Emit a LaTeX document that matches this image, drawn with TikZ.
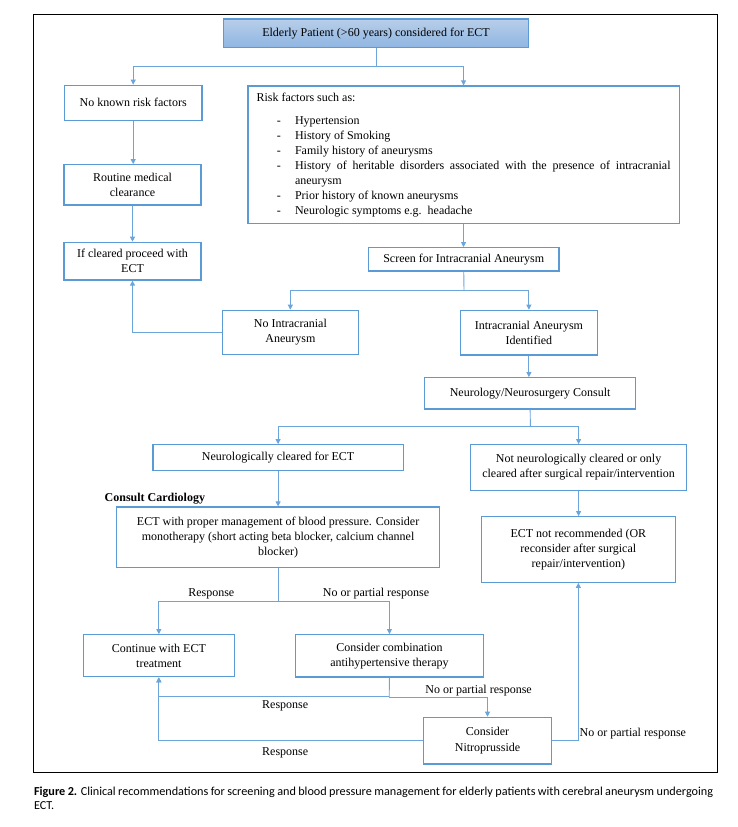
\documentclass[tikz,border=0pt]{standalone}
\usepackage{fontspec}
\setmainfont{Liberation Serif}
\newfontfamily\capfont{Carlito}
\usetikzlibrary{arrows.meta}
\definecolor{bxblue}{RGB}{91,155,213}
\definecolor{lnblue}{RGB}{108,165,218}
\definecolor{topA}{RGB}{184,206,233}
\definecolor{topB}{RGB}{143,182,226}
\tikzset{
  base/.style={font=\fontsize{12}{15}\selectfont},
  bx/.style={base, draw=bxblue, line width=1.2pt, inner sep=0pt, align=center},
  lbl/.style={base, inner sep=0pt},
  ln/.style={draw=lnblue, line width=0.9pt},
  arr/.style={ln, -{Triangle[length=5pt,width=5pt]}},
}
\begin{document}
\begin{tikzpicture}[x=1pt,y=-1pt]
\useasboundingbox (0,0) rectangle (738,827);
\draw[black, line width=1pt] (33,14) rectangle (717,772);
% boxes
\node[bx, line width=1.5pt, top color=topA, bottom color=topB, minimum width=305pt, minimum height=28.3pt] (top) at (376,33.2) {Elderly Patient (>60 years) considered for ECT};
\node[bx, minimum width=137.4pt, minimum height=35pt] (nokn) at (133.2,102.8) {No known risk factors};
\node[bx, minimum width=431.1pt, minimum height=137.7pt, text width=414pt, inner xsep=8.5pt, align=justify] (risk) at (463.55,154.85) {%
Risk factors such as:\par\vspace{8pt}%
\hangindent=38.5pt\hangafter=1\makebox[38.5pt][l]{\hspace{20.2pt}-}Hypertension\par
\hangindent=38.5pt\hangafter=1\makebox[38.5pt][l]{\hspace{20.2pt}-}History of Smoking\par
\hangindent=38.5pt\hangafter=1\makebox[38.5pt][l]{\hspace{20.2pt}-}Family history of aneurysms\par
\hangindent=38.5pt\hangafter=1\makebox[38.5pt][l]{\hspace{20.2pt}-}History of heritable disorders associated with the presence of intracranial aneurysm\par
\hangindent=38.5pt\hangafter=1\makebox[38.5pt][l]{\hspace{20.2pt}-}Prior history of known aneurysms\par
\hangindent=38.5pt\hangafter=1\makebox[38.5pt][l]{\hspace{20.2pt}-}Neurologic symptoms e.g.\ \ headache\par}%
;
\node[bx, minimum width=137pt, minimum height=40.3pt] (routine) at (132.5,184.85) {Routine medical\\clearance};
\node[bx, minimum width=137pt, minimum height=37.7pt] (ifcl) at (132.5,261.15) {If cleared proceed with\\ECT};
\node[bx, minimum width=190.5pt, minimum height=23.3pt] (screen) at (463.75,259.35) {Screen for Intracranial Aneurysm};
\node[bx, minimum width=136.5pt, minimum height=44pt] (noia) at (290.35,332.3) {No Intracranial\\Aneurysm};
\node[bx, minimum width=137.4pt, minimum height=44.7pt] (iaid) at (528.9,332.65) {Intracranial Aneurysm\\Identified};
\node[bx, minimum width=211.3pt, minimum height=31.3pt] (consult) at (530.15,393.35) {Neurology/Neurosurgery Consult};
\node[bx, minimum width=250.4pt, minimum height=25.6pt] (neurocl) at (278.1,457.5) {Neurologically cleared for ECT};
\node[bx, minimum width=216pt, minimum height=45.6pt] (notneuro) at (578.6,467.5) {Not neurologically cleared or only\\cleared after surgical repair/intervention};
\node[bx, minimum width=322.8pt, minimum height=60.7pt] (ect) at (278.1,537.35) {ECT with proper management of blood pressure. Consider\\monotherapy (short acting beta blocker, calcium channel\\blocker)};
\node[bx, minimum width=193.9pt, minimum height=65.6pt] (ectnot) at (578.35,549.5) {ECT not recommended (OR\\reconsider after surgical\\repair/intervention)};
\node[bx, minimum width=151.1pt, minimum height=42pt] (cont) at (158.85,655.7) {Continue with ECT\\treatment};
\node[bx, minimum width=188.7pt, minimum height=42.3pt] (comb) at (389.45,655.85) {Consider combination\\antihypertensive therapy};
\node[bx, minimum width=128pt, minimum height=46.7pt, font=\fontsize{12}{16}\selectfont] (nitro) at (487.5,740.65) {Consider\\Nitroprusside};
% labels
\node[lbl, font=\fontsize{12}{15}\selectfont\bfseries, anchor=west] (cardio) at (104.5,498.3) {Consult Cardiology};
\node[lbl] (resp1) at (211.3,594) {Response};
\node[lbl] (nopr1) at (376,594) {No or partial response};
\node[lbl] (nopr2) at (478.6,691) {No or partial response};
\node[lbl] (resp2) at (285.2,706) {Response};
\node[lbl] (resp3) at (285.2,753.3) {Response};
\node[lbl, anchor=west] (nopr3) at (579.5,733.3) {No or partial response};
% junctions
\coordinate (j1) at (376,66);
\coordinate (j2) at (464,290.7);
\coordinate (j3) at (530.4,426.7);
\coordinate (j4) at (278.1,601.3);
\coordinate (j5) at (389.2,696);
\coordinate (j6) at (389.2,697.3);
% connectors
\draw[ln] (top.south) -- (j1);
\draw[arr] (j1) -| (nokn.north);
\draw[arr] (j1) -| (risk.north);
\draw[arr] (nokn.south) -- (nokn.south |- routine.north);
\draw[arr] (routine.south) -- (routine.south |- ifcl.north);
\draw[arr] (risk.south) -- (risk.south |- screen.north);
\draw[ln] (screen.south) -- (j2);
\draw[arr] (j2) -| (noia.north);
\draw[arr] (j2) -| (iaid.north);
\draw[arr] (noia.west) -| (ifcl.south);
\draw[arr] (iaid.south) -- (iaid.south |- consult.north);
\draw[ln] (consult.south |- consult.south) -- (j3);
\draw[arr] (j3) -| (neurocl.north);
\draw[arr] (j3) -| (notneuro.north);
\draw[arr] (neurocl.south) -- (ect.north);
\draw[arr] (notneuro.south) -- (notneuro.south |- ectnot.north);
\draw[ln] (ect.south) -- (j4);
\draw[arr] (j4) -| (cont.north);
\draw[arr] (j4) -| (comb.north);
\draw[ln] (comb.south) -- (j6);
\draw[arr] (j5) -| (cont.south);
\draw[arr] (j6) -| (nitro.north);
\draw[arr] (nitro.west) -| (cont.south);
\draw[arr] (nitro.east) -| (ectnot.south);
% caption
\node[anchor=west, inner sep=0pt, font=\capfont\fontsize{12.2}{14}\selectfont, align=left] (cap) at (33.9,798) {\makebox[679pt][s]{\textbf{Figure 2.} Clinical recommendations for screening and blood pressure management for elderly patients with cerebral aneurysm undergoing}\\ECT.};
\end{tikzpicture}
\end{document}
